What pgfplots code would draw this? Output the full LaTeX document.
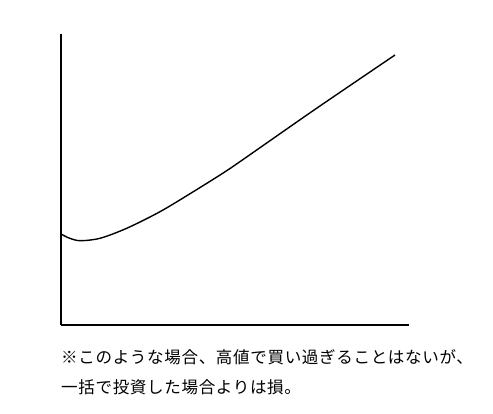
\documentclass[border=0pt]{standalone}
\usepackage{pgfplots}
\pgfplotsset{compat=1.18}
\usepackage{fontspec}
\newfontfamily\jp[LetterSpace=4]{Noto Sans CJK JP}

\begin{document}
\begin{tikzpicture}
% page frame in pixel units (493 x 414)
\path (0,0) rectangle (493bp,414bp);
\begin{axis}[
  at={(61bp,89bp)}, anchor=south west,
  scale only axis,
  width=348bp, height=291bp,
  xmin=0, xmax=348, ymin=0, ymax=291,
  axis x line=bottom, axis y line=left,
  axis line style={-, line width=1.6pt, black},
  xtick=\empty, ytick=\empty,
  clip=false,
]
\addplot[black, line width=1.4pt, smooth] coordinates {
  (0,91) (8,87) (19,84.3) (39,86.7) (65.7,96.7) (99,113.3)
  (132.3,133.3) (165.7,154.3) (195.7,175) (255,216.3) (334,270)
};
\end{axis}
\node[anchor=west, inner sep=0pt, font=\jp\fontsize{16.6}{20}\selectfont] at (61bp,57bp)
  {※このような場合、高値で買い過ぎることはないが、};
\node[anchor=west, inner sep=0pt, font=\jp\fontsize{16.6}{20}\selectfont] at (61bp,27bp)
  {一括で投資した場合よりは損。};
\end{tikzpicture}
\end{document}
